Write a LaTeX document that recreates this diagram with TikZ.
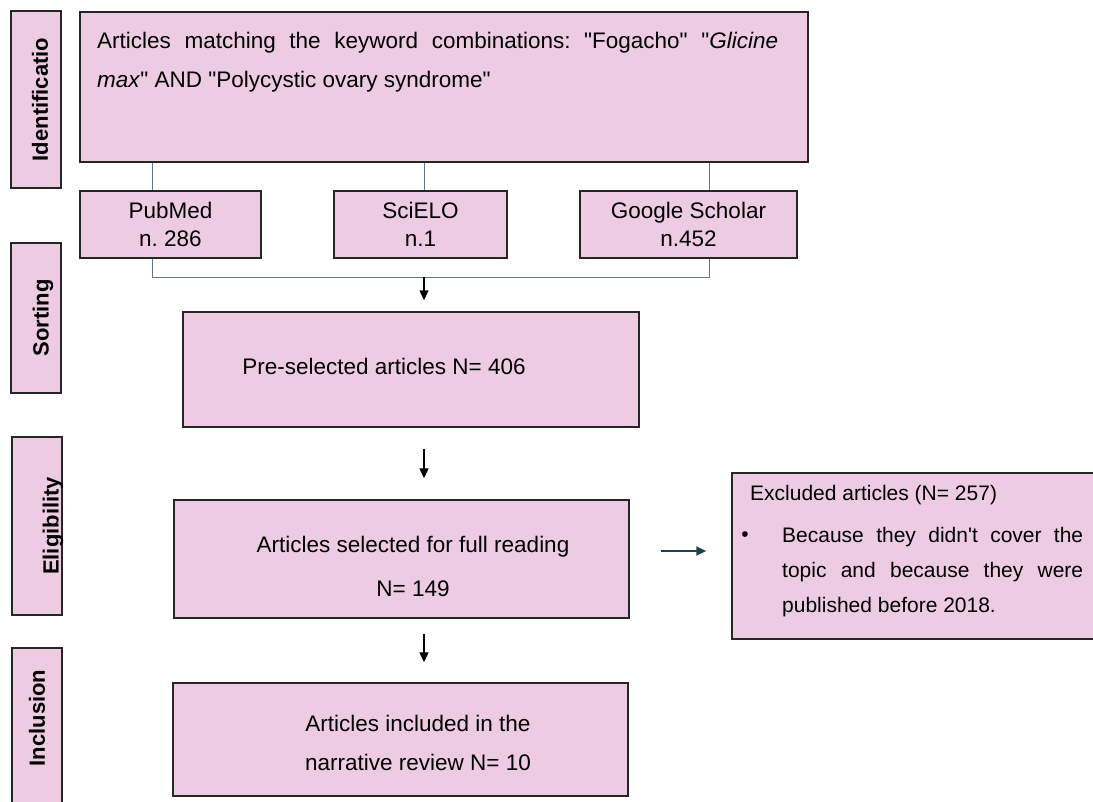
\documentclass[tikz,border=0pt]{standalone}
\usepackage{fontspec}
\setmainfont{Liberation Sans}
\usepackage{xcolor}
\usetikzlibrary{positioning, arrows.meta, calc}
\definecolor{mauve}{HTML}{EDCBE3}
\definecolor{linkgrey}{HTML}{5C7A8A}
\definecolor{petrol}{HTML}{1E4254}
\newcommand{\dq}{\textquotedbl}
\frenchspacing

\begin{document}
\begin{tikzpicture}[x=1pt, y=-1pt,
  font=\fontsize{22.5}{28}\selectfont,
  stage/.style={draw=black!85, line width=1.5pt, fill=mauve, minimum width=50pt, inner sep=0pt},
  stagelbl/.style={rotate=90, font=\fontsize{22}{26}\selectfont\bfseries, inner sep=0pt},
  box/.style={draw=black!85, line width=1.5pt, fill=mauve, inner sep=0pt, align=center},
  txt/.style={inner sep=0pt, align=center},
  link/.style={draw=linkgrey, line width=1pt},
  arr/.style={-{Triangle[length=10pt, width=9pt]}, line width=1.5pt}]
  \clip (0,0) rectangle (1093,801);
  % phase labels on the left
  \node[stage, minimum height=177pt] (ident) at (36,99.5) {};
  \node[stagelbl] at (ident.center) [yshift=-4pt] {Identificatio};
  \node[stage, minimum height=150pt] (sort) at (36,318) {};
  \node[stagelbl] at (sort.center) [yshift=-7pt] {Sorting};
  \node[stage, minimum height=178pt] (elgb) at (37,526) {};
  \node[stagelbl] at (elgb.center) [yshift=-16pt] {Eligibility};
  \node[stage, minimum height=192pt] (incb) at (37,744) {};
  \node[stagelbl] at (37,718) {Inclusion};

  % search and sources
  \node[box, minimum width=728pt, minimum height=150pt] (kw) at (444,87) {};
  \node[txt, anchor=north west, text width=681pt, align=justify,
        font=\fontsize{22.5}{39}\selectfont] (kwtxt) at (97,32)
    {Articles matching the keyword combinations: \dq Fogacho\dq{} \dq\textit{Glicine}\linebreak
     \textit{max}\dq{} AND \dq Polycystic ovary syndrome\dq};
  \node[box, minimum width=181pt, minimum height=67pt] (pub) at (170.5,224.5) {PubMed\\n. 286};
  \node[box, minimum width=173pt, minimum height=67pt] (sci) at (420.5,224.5) {SciELO\\n.1};
  \node[box, minimum width=217pt, minimum height=67pt] (gs) at (688.5,224.5) {Google Scholar\\n.452};
  \coordinate (jl) at (152,277);
  \coordinate (jm) at (424,277);
  \coordinate (jr) at (709,277);
  \draw[link] (kw.south -| jl) -- (pub.north -| jl);
  \draw[link] (kw.south -| jm) -- (sci.north -| jm);
  \draw[link] (kw.south -| jr) -- (gs.north -| jr);
  \draw[link] (pub.south -| jl) -- (jl) -- (jr) -- (gs.south -| jr);

  % screening steps
  \node[box, minimum width=456pt, minimum height=115pt] (pre) at (411,369.5) {};
  \node[txt] at ([shift={(-27,-3.5)}]pre.center) {Pre-selected articles N= 406};
  \node[box, minimum width=455pt, minimum height=118pt] (elig) at (401.5,559) {};
  \node[txt, font=\fontsize{22.5}{44}\selectfont] at ([shift={(11.5,7)}]elig.center)
    {Articles selected for full reading\\N= 149};
  \node[box, minimum width=455pt, minimum height=113pt] (incl) at (400.5,739.5) {};
  \node[txt, font=\fontsize{22.5}{39}\selectfont] at ([shift={(17.5,3)}]incl.center)
    {Articles included in the\\narrative review N= 10};
  \draw[arr, shorten >=11pt] (jm) -- (pre.north -| jm);
  \draw[arr, shorten <=21pt, shorten >=21pt] (pre.south -| jm) -- (elig.north -| jm);
  \draw[arr, shorten <=15pt, shorten >=20pt] (elig.south -| jm) -- (incl.north -| jm);

  % excluded records
  \node[box, minimum width=378pt, minimum height=166pt] (excl) at (921,556) {};
  \node[txt, anchor=west, font=\fontsize{21}{35}\selectfont] (excltitle) at (750,495)
    {Excluded articles (N= 257)};
  \node[txt, font=\fontsize{21}{35}\selectfont] (bul) at (745,537) {\textbullet};
  \node[txt, anchor=north west, text width=301pt, align=justify,
        font=\fontsize{21}{35}\selectfont] (exclbody) at (782,527)
    {Because they didn\textquotesingle t cover the\linebreak
     topic and because they were\linebreak published before 2018.};
  \coordinate (ea) at ([yshift=8pt]elig.east);
  \draw[arr, petrol, line width=2pt, shorten <=31pt, shorten >=25pt] (ea) -- (ea -| excl.west);
\end{tikzpicture}
\end{document}
